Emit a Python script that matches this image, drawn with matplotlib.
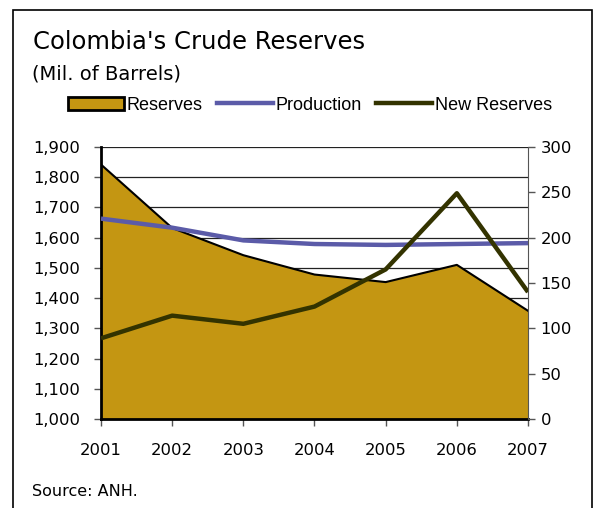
import matplotlib
matplotlib.use('Agg')
import matplotlib.pyplot as plt
from matplotlib.patches import Patch, Rectangle
from matplotlib.lines import Line2D
from matplotlib.ticker import FuncFormatter

years = [2001, 2002, 2003, 2004, 2005, 2006, 2007]
reserves = [1842, 1632, 1542, 1478, 1453, 1510, 1358]      # left axis
production = [221, 211, 197, 193, 192, 193, 194]           # right axis
new_reserves = [89, 114, 105, 124, 165, 249, 140]          # right axis

gold = '#C49612'
blue = '#5B5BA8'
olive = '#333300'

plt.rcParams['font.family'] = 'DejaVu Sans'

fig = plt.figure(figsize=(5.97, 5.08), dpi=100)
ax = fig.add_axes([101/597, 1 - 419/508, 427/597, 272/508])
ax2 = ax.twinx()

# reserves as a filled area on the left scale
ax.fill_between(years, 1000, reserves, facecolor=gold, edgecolor='none', zorder=2)
ax.plot(years, reserves, color='black', lw=1.5, zorder=3)
ax.set_ylim(1000, 1900)
ax.set_xlim(2001, 2007)
ax.set_yticks(range(1000, 2000, 100))
ax.yaxis.set_major_formatter(FuncFormatter(lambda v, p: '{:,.0f}'.format(v)))
ax.set_xticks(years)
ax.grid(axis='y', color='#222222', lw=0.9, zorder=0)
ax.set_axisbelow(True)

ax2.plot(years, production, color=blue, lw=3.2, solid_capstyle='butt', zorder=4)
ax2.plot(years, new_reserves, color=olive, lw=3.2, solid_capstyle='butt', zorder=4)
ax2.set_ylim(0, 300)
ax2.set_yticks(range(0, 301, 50))

for a in (ax, ax2):
    a.spines['top'].set_visible(False)
    a.tick_params(labelsize=11.8, colors='black', length=5, width=1)
    a.tick_params(axis='both', color='#555555')
ax.spines['left'].set_linewidth(2)
ax.spines['bottom'].set_linewidth(2)
ax.spines['right'].set_visible(False)
ax2.spines['left'].set_visible(False)
ax2.spines['bottom'].set_visible(False)
ax2.spines['right'].set_color('#555555')
ax.tick_params(axis='x', pad=12)
ax.tick_params(axis='y', pad=10)
ax2.tick_params(axis='y', pad=4)

fig.text(33/597, 1 - 42/508, "Colombia's Crude Reserves", fontsize=17.5, va='center')
fig.text(32/597, 1 - 74/508, "(Mil. of Barrels)", fontsize=14, va='center')
fig.text(32/597, 1 - 491/508, "Source: ANH.", fontsize=11.5, va='center')

handles = [Patch(facecolor=gold, edgecolor='black', lw=2),
           Line2D([], [], color=blue, lw=3.2),
           Line2D([], [], color=olive, lw=3.2)]
fig.legend(handles, ['Reserves', 'Production', 'New Reserves'], ncol=3,
           loc='center', bbox_to_anchor=(310/597, 1 - 105/508), frameon=False,
           prop={'family': 'Liberation Sans', 'size': 13},
           handlelength=3.1, handleheight=0.75, handletextpad=0.15,
           columnspacing=0.8, borderpad=0)

fig.patches.append(Rectangle((13/597, -0.02), 579/597, 1.02 - 10/508,
                             transform=fig.transFigure, fill=False,
                             edgecolor='black', lw=1.2))

fig.savefig('out.png', dpi=100)
